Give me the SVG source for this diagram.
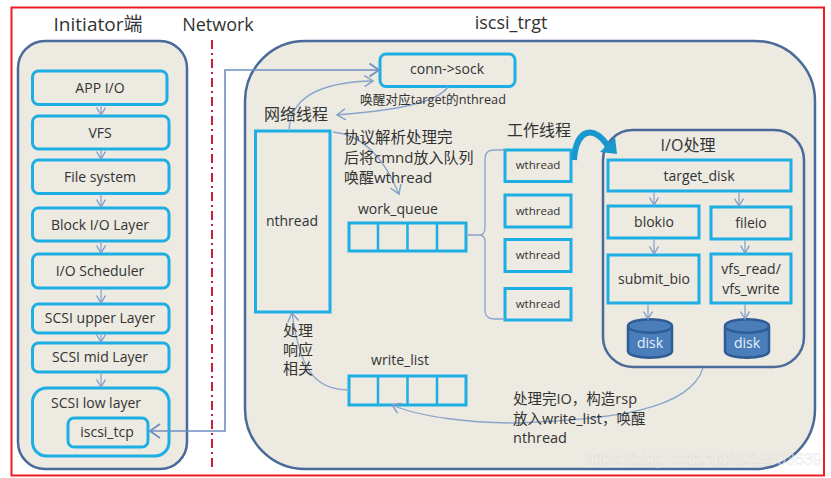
<svg xmlns="http://www.w3.org/2000/svg" width="831" height="478" viewBox="0 0 831 478">
<defs>
<marker id="a" markerWidth="12" markerHeight="12" refX="9.5" refY="6" orient="auto" markerUnits="userSpaceOnUse"><path d="M1 0.5L9.5 6L1 11.5" fill="none" stroke="#7F9CC6" stroke-width="1.4"/></marker>
<marker id="s" markerWidth="12" markerHeight="12" refX="9.5" refY="5" orient="auto" markerUnits="userSpaceOnUse"><path d="M2 0.5L9.5 5L2 9.5" fill="none" stroke="#7F9CC6" stroke-width="1.3"/></marker>
<marker id="m" markerWidth="14" markerHeight="16" refX="11" refY="8" orient="auto" markerUnits="userSpaceOnUse"><path d="M1.5 1.500L11 8L1.500 14.500" fill="none" stroke="#6E8FC4" stroke-width="1.800"/></marker>
</defs>
<style>
text{font-family:"Open Sans","Noto Sans","Noto Sans CJK SC",sans-serif;fill:#333;text-anchor:middle}
.t{font-size:14px}.w{font-size:11.5px}.h{font-size:18px}.c{font-size:15px;text-anchor:start}
.b{fill:#ECEAE1;stroke:#1DAEE4;stroke-width:3}
.p{fill:#ECEAE1;stroke:#4A6A9A;stroke-width:2.5}
.l{fill:none;stroke:#8AA5CC;stroke-width:1.3}
.d{fill:#4A7EBB;stroke:#2F5C94;stroke-width:2.5}
</style>
<rect width="831" height="478" fill="#fff"/>
<rect x="11.5" y="7.500" width="812.500" height="468" fill="none" stroke="#EE1C25" stroke-width="2"/>
<text class="h" x="98" y="31" style="font-size:19px">Initiator端</text>
<text class="h" x="218" y="31">Network</text>
<text class="h" x="511" y="29">iscsi_trgt</text>
<line x1="212" y1="40" x2="212" y2="467" stroke="#C8203C" stroke-width="2" stroke-dasharray="9 4 2 4"/>

<rect id="initiator" class="p" x="18" y="41" width="169" height="428" rx="27"/>
<rect id="target" class="p" x="245" y="41" width="570" height="428" rx="60"/>

<g id="app-io"><rect class="b" x="32.5" y="71" width="134.500" height="33.500" rx="6"/><text class="t" x="100" y="93">APP I/O</text></g>
<g id="vfs"><rect class="b" x="32.5" y="116" width="136.500" height="33" rx="6"/><text class="t" x="100" y="138">VFS</text></g>
<g id="file-system"><rect class="b" x="32.5" y="160" width="136.500" height="33.500" rx="6"/><text class="t" x="100" y="182">File system</text></g>
<g id="block-io"><rect class="b" x="32.5" y="208" width="136.500" height="33" rx="6"/><text class="t" x="100" y="230">Block I/O Layer</text></g>
<g id="io-scheduler"><rect class="b" x="32.5" y="254" width="136.500" height="34" rx="6"/><text class="t" x="100" y="276">I/O Scheduler</text></g>
<g id="scsi-upper"><rect class="b" x="32.5" y="304" width="136.500" height="29" rx="6"/><text class="t" x="100" y="323">SCSI upper Layer</text></g>
<g id="scsi-mid"><rect class="b" x="32.5" y="343" width="136.500" height="29" rx="6"/><text class="t" x="100" y="362">SCSI mid Layer</text></g>
<g id="scsi-low"><rect class="b" x="32.5" y="388" width="136.500" height="68" rx="14"/><text class="t" x="96" y="408">SCSI low layer</text></g>
<g id="iscsi-tcp"><rect class="b" x="68" y="418" width="80" height="29" rx="6"/><text class="t" x="107" y="437">iscsi_tcp</text></g>

<g id="conn-sock"><rect class="b" x="380" y="54" width="135" height="32.500" rx="6"/><text class="t" x="447" y="74">conn-&gt;sock</text></g>
<g id="nthread"><rect class="b" x="255.500" y="131" width="74.500" height="181"/><text class="t" x="292" y="226">nthread</text></g>
<g id="work-queue"><rect class="b" x="349" y="223" width="117" height="28"/><path d="M378 223V251M407.500 223V251M437 223V251" fill="none" stroke="#1DAEE4" stroke-width="2.500"/><text class="t" x="398" y="214">work_queue</text></g>
<g id="write-list"><rect class="b" x="349" y="376" width="117" height="29"/><path d="M378 376V405M407.500 376V405M437 376V405" fill="none" stroke="#1DAEE4" stroke-width="2.500"/><text class="t" x="400" y="365">write_list</text></g>
<g id="wthread-1"><rect class="b" x="505" y="150" width="66" height="31.500"/><text class="w" x="538" y="169">wthread</text></g>
<g id="wthread-2"><rect class="b" x="505" y="195" width="66" height="32"/><text class="w" x="538" y="215">wthread</text></g>
<g id="wthread-3"><rect class="b" x="505" y="239.500" width="66" height="32"/><text class="w" x="538" y="259">wthread</text></g>
<g id="wthread-4"><rect class="b" x="505" y="288.500" width="66" height="31.500"/><text class="w" x="538" y="308">wthread</text></g>

<g id="io-panel"><rect class="p" x="603" y="130" width="201" height="237" rx="30"/><text class="t" x="688" y="151" style="font-size:16px">I/O处理</text></g>
<g id="target-disk"><rect class="b" x="608" y="160" width="183" height="31"/><text class="t" x="699" y="181">target_disk</text></g>
<g id="blokio"><rect class="b" x="608" y="206" width="91" height="32"/><text class="t" x="654" y="227">blokio</text></g>
<g id="fileio"><rect class="b" x="711" y="207" width="80" height="32"/><text class="t" x="751" y="228">fileio</text></g>
<g id="submit-bio"><rect class="b" x="608" y="255" width="91" height="48"/><text class="t" x="654" y="284">submit_bio</text></g>
<g id="vfs-rw"><rect class="b" x="711" y="254" width="80" height="49"/><text class="t" x="751" y="274">vfs_read/</text><text class="t" x="751" y="294">vfs_write</text></g>
<g id="disk-1"><path class="d" d="M628 326V351C628 360 672 360 672 351V326C672 317 628 317 628 326C628 335 672 335 672 326"/><text class="t" x="650" y="348" style="fill:#E8EEF6">disk</text></g>
<g id="disk-2"><path class="d" d="M725 326V351C725 360 769 360 769 351V326C769 317 725 317 725 326C725 335 769 335 769 326"/><text class="t" x="747" y="348" style="fill:#E8EEF6">disk</text></g>

<g id="connectors">
<path d="M150 431H225V70H379" fill="none" stroke="#6E8FC4" stroke-width="1.6" marker-end="url(#m)"/>
<path d="M160 424L150 431L160 438" fill="none" stroke="#6E8FC4" stroke-width="1.8"/>
<path d="M101 105V115" class="l" marker-end="url(#s)"/>
<path d="M101 150V159" class="l" marker-end="url(#s)"/>
<path d="M101 194V207" class="l" marker-end="url(#s)"/>
<path d="M101 241V253" class="l" marker-end="url(#s)"/>
<path d="M101 288V303" class="l" marker-end="url(#s)"/>
<path d="M101 333V342" class="l" marker-end="url(#s)"/>
<path d="M101 372V387" class="l" marker-end="url(#s)"/>
<path d="M289 131C290 100 315 82 373 81" class="l" marker-end="url(#a)"/>
<path d="M448 87C435 105 385 111 337 115" class="l" marker-end="url(#a)"/>
<path d="M333 132C365 135 385 160 399 194" class="l" marker-end="url(#a)"/>
<path d="M466 235H479Q485 235 485 228V159Q485 150 494 150H505M466 235H479Q485 235 485 242V310Q485 319 494 319H505" class="l"/>
<path d="M349 390C315 390 300 370 292 313" class="l" marker-end="url(#a)"/>
<path d="M703 368C690 410 610 420 515 423C470 423 420 417 392 405" class="l" marker-end="url(#a)"/>
<path d="M654 192V205" class="l" marker-end="url(#s)"/>
<path d="M739 192V206" class="l" marker-end="url(#s)"/>
<path d="M654 239V254" class="l" marker-end="url(#s)"/>
<path d="M745 240V253" class="l" marker-end="url(#s)"/>
<path d="M648 304V319" class="l" marker-end="url(#s)"/>
<path d="M745 304V319" class="l" marker-end="url(#s)"/>
</g>

<g id="blue-arc">
<path d="M574 160C576 128 595 124 609 148" fill="none" stroke="#1898CE" stroke-width="6"/>
<path d="M600 152L617 154L615 137Z" fill="#1898CE"/>
</g>

<text class="c" x="264" y="120" style="font-size:16px">网络线程</text>
<text class="c" x="360" y="104" style="font-size:12.700px">唤醒对应target的nthread</text>
<text class="c" x="344" y="143" style="font-size:15.500px">协议解析处理完</text>
<text class="c" x="344" y="163">后将cmnd放入队列</text>
<text class="c" x="344" y="183">唤醒wthread</text>
<text class="c" x="507" y="136" style="font-size:16px">工作线程</text>
<text class="t" x="298" y="336" style="font-size:15px">处理</text>
<text class="t" x="298" y="355" style="font-size:15px">响应</text>
<text class="t" x="298" y="374" style="font-size:15px">相关</text>
<text class="c" x="513" y="404" style="font-size:14.500px">处理完IO，构造rsp</text>
<text class="c" x="513" y="423.500" style="font-size:14.500px">放入write_list，唤醒</text>
<text class="c" x="513" y="443" style="font-size:14.500px">nthread</text>
<text x="585" y="465" style="font-family:'Liberation Sans',sans-serif;font-size:17px;text-anchor:start;fill:#fff;fill-opacity:.55;stroke:#aaa;stroke-opacity:.35;stroke-width:.5" textLength="237">https://blog.csdn.net/u012503639</text>
</svg>
